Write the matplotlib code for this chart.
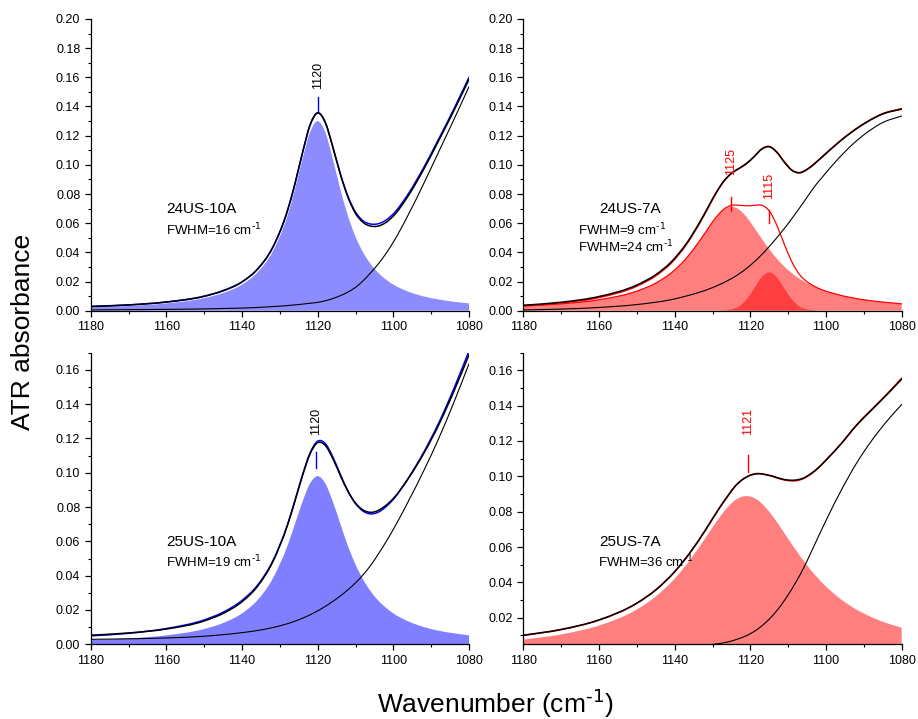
import numpy as np
import matplotlib
matplotlib.use("Agg")
import matplotlib.pyplot as plt
from matplotlib.path import Path
from matplotlib.patches import PathPatch
from matplotlib.ticker import MultipleLocator, FormatStrFormatter

plt.rcParams["font.family"] = ["Liberation Sans", "DejaVu Sans"]
plt.rcParams["mathtext.default"] = "regular"

# wavenumber grids (cm-1), denser around the bands
wn_even = [1180, 1170, 1160, 1150, 1145, 1140, 1136, 1132, 1128, 1126, 1124, 1122, 1120,
           1118, 1116, 1114, 1112, 1110, 1108, 1106, 1104, 1102, 1100, 1096, 1092, 1088,
           1084, 1080]
wn_odd = [1180, 1170, 1160, 1150, 1145, 1141, 1137, 1133, 1131, 1129, 1127, 1125, 1123,
          1121, 1119, 1117, 1115, 1113, 1111, 1109, 1107, 1105, 1103, 1101, 1097, 1093,
          1089, 1085, 1080]

# 24US-10A
a_peak = [0.0023, 0.0032, 0.0050, 0.0086, 0.0121, 0.0179, 0.0260, 0.0400, 0.0650, 0.0832,
          0.1040, 0.1224, 0.1300, 0.1224, 0.1040, 0.0832, 0.0650, 0.0507, 0.0400, 0.0320,
          0.0260, 0.0214, 0.0179, 0.0130, 0.0098, 0.0077, 0.0061, 0.0050]
a_base = [0.0005, 0.0007, 0.0009, 0.0012, 0.0015, 0.0018, 0.0022, 0.0028, 0.0035, 0.0040,
          0.0045, 0.0051, 0.0057, 0.0068, 0.0083, 0.0103, 0.0128, 0.0160, 0.0205, 0.0260,
          0.0320, 0.0390, 0.0470, 0.0660, 0.0870, 0.1090, 0.1310, 0.1536]
a_fit = [0.0028, 0.0039, 0.0059, 0.0098, 0.0136, 0.0197, 0.0282, 0.0428, 0.0685, 0.0872,
         0.1085, 0.1275, 0.1357, 0.1292, 0.1123, 0.0935, 0.0778, 0.0667, 0.0605, 0.0580,
         0.0580, 0.0604, 0.0649, 0.0790, 0.0968, 0.1167, 0.1371, 0.1586]
a_meas = [0.0030, 0.0040, 0.0060, 0.0100, 0.0138, 0.0198, 0.0283, 0.0428, 0.0684, 0.0870,
          0.1082, 0.1272, 0.1355, 0.1290, 0.1122, 0.0937, 0.0784, 0.0676, 0.0616, 0.0594,
          0.0596, 0.0620, 0.0664, 0.0803, 0.0980, 0.1178, 0.1383, 0.1600]

# 24US-7A (two bands)
b_broad = [0.0032, 0.0047, 0.0075, 0.0134, 0.0189, 0.0257, 0.0357, 0.0494, 0.0570, 0.0642,
           0.0694, 0.0713, 0.0694, 0.0642, 0.0570, 0.0494, 0.0421, 0.0357, 0.0302, 0.0257,
           0.0219, 0.0189, 0.0164, 0.0143, 0.0111, 0.0088, 0.0071, 0.0059, 0.0047]
b_narrow = [0.0, 0.0, 0.0, 0.0, 0.0, 0.0, 0.0, 0.0, 0.0, 0.0,
            0.0002, 0.0009, 0.0029, 0.0077, 0.0152, 0.0229, 0.0263, 0.0229, 0.0152, 0.0077,
            0.0029, 0.0009, 0.0002, 0.0, 0.0, 0.0, 0.0, 0.0, 0.0]
b_base = [0.0005, 0.0011, 0.0022, 0.0042, 0.0058, 0.0075, 0.0100, 0.0130, 0.0148, 0.0169,
          0.0193, 0.0220, 0.0252, 0.0290, 0.0334, 0.0384, 0.0440, 0.0500, 0.0564, 0.0632,
          0.0704, 0.0778, 0.0852, 0.0915, 0.1035, 0.1140, 0.1225, 0.1290, 0.1335]
b_fit = [0.0037, 0.0058, 0.0097, 0.0176, 0.0247, 0.0332, 0.0457, 0.0624, 0.0718, 0.0811,
         0.0889, 0.0942, 0.0975, 0.1009, 0.1056, 0.1107, 0.1124, 0.1086, 0.1018, 0.0962,
         0.0945, 0.0968, 0.1008, 0.1054, 0.1146, 0.1228, 0.1296, 0.1349, 0.1382]
b_meas = [0.0034, 0.0053, 0.0090, 0.0168, 0.0239, 0.0324, 0.0450, 0.0618, 0.0713, 0.0808,
          0.0887, 0.0941, 0.0975, 0.1010, 0.1057, 0.1109, 0.1126, 0.1088, 0.1020, 0.0964,
          0.0947, 0.0970, 0.1010, 0.1056, 0.1148, 0.1230, 0.1298, 0.1351, 0.1385]

# 25US-10A
c_peak = [0.0024, 0.0034, 0.0052, 0.0089, 0.0124, 0.0180, 0.0255, 0.0378, 0.0573, 0.0701,
          0.0832, 0.0938, 0.0980, 0.0938, 0.0832, 0.0701, 0.0573, 0.0465, 0.0378, 0.0309,
          0.0255, 0.0214, 0.0180, 0.0133, 0.0101, 0.0079, 0.0064, 0.0052]
c_base = [0.0029, 0.0032, 0.0037, 0.0047, 0.0056, 0.0068, 0.0080, 0.0097, 0.0120, 0.0135,
          0.0152, 0.0172, 0.0195, 0.0221, 0.0250, 0.0282, 0.0318, 0.0358, 0.0405, 0.0460,
          0.0525, 0.0595, 0.0670, 0.0835, 0.1010, 0.1200, 0.1410, 0.1635]
c_fit = [0.0053, 0.0066, 0.0089, 0.0136, 0.0180, 0.0248, 0.0335, 0.0475, 0.0693, 0.0836,
         0.0984, 0.1110, 0.1175, 0.1159, 0.1082, 0.0983, 0.0891, 0.0823, 0.0783, 0.0769,
         0.0780, 0.0809, 0.0850, 0.0968, 0.1111, 0.1279, 0.1474, 0.1687]
c_meas = [0.0049, 0.0064, 0.0092, 0.0142, 0.0187, 0.0256, 0.0342, 0.0480, 0.0696, 0.0838,
          0.0988, 0.1116, 0.1184, 0.1170, 0.1092, 0.0990, 0.0893, 0.0820, 0.0776, 0.0760,
          0.0770, 0.0801, 0.0845, 0.0970, 0.1118, 0.1290, 0.1490, 0.1710]

# 25US-7A
d_peak = [0.0076, 0.0106, 0.0156, 0.0247, 0.0320, 0.0421, 0.0525, 0.0647, 0.0772, 0.0825,
          0.0865, 0.0886, 0.0886, 0.0865, 0.0825, 0.0772, 0.0711, 0.0647, 0.0584, 0.0525,
          0.0470, 0.0421, 0.0377, 0.0304, 0.0247, 0.0204, 0.0170, 0.0144]
d_base = [0.0025, 0.0028, 0.0032, 0.0036, 0.0038, 0.0040, 0.0042, 0.0046, 0.0055, 0.0063,
          0.0075, 0.0090, 0.0110, 0.0137, 0.0172, 0.0215, 0.0268, 0.0330, 0.0400, 0.0478,
          0.0568, 0.0660, 0.0750, 0.0920, 0.1072, 0.1200, 0.1310, 0.1406]
d_fit = [0.0101, 0.0134, 0.0188, 0.0283, 0.0358, 0.0461, 0.0567, 0.0692, 0.0827, 0.0888,
         0.0945, 0.0983, 0.1006, 0.1015, 0.1010, 0.1000, 0.0987, 0.0979, 0.0979, 0.0990,
         0.1015, 0.1049, 0.1092, 0.1184, 0.1287, 0.1374, 0.1460, 0.1550]
d_meas = [0.0100, 0.0133, 0.0187, 0.0282, 0.0357, 0.0460, 0.0566, 0.0691, 0.0826, 0.0887,
          0.0944, 0.0983, 0.1007, 0.1016, 0.1010, 0.0999, 0.0985, 0.0976, 0.0975, 0.0987,
          0.1013, 0.1048, 0.1092, 0.1185, 0.1289, 0.1377, 0.1463, 0.1555]

BLUE = "#0000ff"
RED = "#ff0000"
INV_CM = "cm$^{\\text{-1}}$"


def spline_path(x, y, close_to=None):
    # smooth Bezier connection through the read points (Hermite segments)
    x = np.asarray(x, float)
    y = np.asarray(y, float)
    h = np.diff(x)
    s = np.diff(y) / h
    m = np.empty_like(y)
    m[0], m[-1] = s[0], s[-1]
    m[1:-1] = (s[:-1] * h[1:] + s[1:] * h[:-1]) / (h[:-1] + h[1:])
    verts = [(x[0], y[0])]
    codes = [Path.MOVETO]
    for i in range(len(x) - 1):
        d = h[i] / 3
        verts += [(x[i] + d, y[i] + m[i] * d),
                  (x[i + 1] - d, y[i + 1] - m[i + 1] * d),
                  (x[i + 1], y[i + 1])]
        codes += [Path.CURVE4] * 3
    if close_to is not None:
        verts += [(x[-1], close_to), (x[0], close_to), (x[0], y[0])]
        codes += [Path.LINETO, Path.LINETO, Path.CLOSEPOLY]
    return Path(verts, codes)


def curve(ax, x, y, color, lw):
    ax.add_patch(PathPatch(spline_path(x, y), fill=False, edgecolor=color,
                           lw=lw, capstyle="round", joinstyle="round"))


def band(ax, x, y, color, alpha):
    ax.add_patch(PathPatch(spline_path(x, y, close_to=0.0), facecolor=color,
                           edgecolor="none", alpha=alpha))


def style_axes(ax, ylo, yhi):
    ax.set_xlim(1180, 1080)
    ax.set_ylim(ylo, yhi)
    ax.xaxis.set_major_locator(MultipleLocator(20))
    ax.xaxis.set_minor_locator(MultipleLocator(10))
    ax.yaxis.set_major_locator(MultipleLocator(0.02))
    ax.yaxis.set_minor_locator(MultipleLocator(0.01))
    ax.yaxis.set_major_formatter(FormatStrFormatter("%.2f"))
    ax.spines["top"].set_visible(False)
    ax.spines["right"].set_visible(False)
    for s in ("left", "bottom"):
        ax.spines[s].set_linewidth(0.9)
    ax.tick_params(which="major", direction="out", length=4.5, width=0.9,
                   labelsize=9, pad=3)
    ax.tick_params(which="minor", direction="out", length=2.5, width=0.8)


def band_mark(ax, x, y0, y1, ylab, text, color, text_color):
    ax.plot([x, x], [y0, y1], color=color, lw=1.0)
    ax.text(x, ylab, text, rotation=90, ha="center", va="bottom",
            fontsize=9, color=text_color)


fig = plt.figure(figsize=(9.18, 7.19), dpi=100)
w, h = 0.4121, 0.4057
ax1 = fig.add_axes([0.0988, 0.5679, w, h])
ax2 = fig.add_axes([0.5701, 0.5679, w, h])
ax3 = fig.add_axes([0.0988, 0.1039, w, h])
ax4 = fig.add_axes([0.5701, 0.1039, w, h])

# top left
band(ax1, wn_even, a_peak, BLUE, 0.45)
curve(ax1, wn_even, a_base, "black", 0.8)
curve(ax1, wn_even, a_meas, BLUE, 1.1)
curve(ax1, wn_even, a_fit, "black", 1.1)
band_mark(ax1, 1120, 0.137, 0.1467, 0.152, "1120", BLUE, "black")
ax1.text(1160, 0.0697, "24US-10A", fontsize=11, va="center")
ax1.text(1160, 0.0553, "FWHM=16 " + INV_CM, fontsize=9.5, va="center")
style_axes(ax1, 0, 0.20)

# top right
b_sum = np.array(b_broad) + np.array(b_narrow)
band(ax2, wn_odd, b_broad, RED, 0.5)
band(ax2, wn_odd, b_narrow, RED, 0.5)
curve(ax2, wn_odd, b_sum, RED, 0.9)
curve(ax2, wn_odd, b_base, "black", 0.8)
curve(ax2, wn_odd, b_meas, RED, 1.1)
curve(ax2, wn_odd, b_fit, "black", 1.1)
band_mark(ax2, 1125, 0.0682, 0.0778, 0.093, "1125", RED, RED)
band_mark(ax2, 1115, 0.060, 0.069, 0.0764, "1115", RED, RED)
ax2.text(1160, 0.0697, "24US-7A", fontsize=11, va="center")
ax2.text(1165.6, 0.0553, "FWHM=9 " + INV_CM, fontsize=9.5, va="center")
ax2.text(1165.6, 0.0439, "FWHM=24 " + INV_CM, fontsize=9.5, va="center")
style_axes(ax2, 0, 0.20)

# bottom left
band(ax3, wn_even, c_peak, BLUE, 0.5)
curve(ax3, wn_even, c_base, "black", 0.8)
curve(ax3, wn_even, c_meas, BLUE, 1.1)
curve(ax3, wn_even, c_fit, "black", 1.1)
band_mark(ax3, 1120.5, 0.1025, 0.1122, 0.122, "1120", BLUE, "black")
ax3.text(1160, 0.0594, "25US-10A", fontsize=11, va="center")
ax3.text(1160, 0.0478, "FWHM=19 " + INV_CM, fontsize=9.5, va="center")
style_axes(ax3, 0, 0.17)

# bottom right
band(ax4, wn_even, d_peak, RED, 0.5)
curve(ax4, wn_even, d_base, "black", 0.8)
curve(ax4, wn_even, d_meas, RED, 1.1)
curve(ax4, wn_even, d_fit, "black", 1.1)
band_mark(ax4, 1120.7, 0.1025, 0.1119, 0.1232, "1121", RED, RED)
ax4.text(1160, 0.0626, "25US-7A", fontsize=11, va="center")
ax4.text(1160.3, 0.0513, "FWHM=36 " + INV_CM, fontsize=9.5, va="center")
style_axes(ax4, 0.005, 0.17)

fig.text(0.025, 0.538, "ATR absorbance", rotation=90, fontsize=19,
         ha="center", va="center")
fig.text(0.54, 0.022, "Wavenumber (" + INV_CM + ")", fontsize=19,
         ha="center", va="center")

fig.savefig("out.png", dpi=100)
